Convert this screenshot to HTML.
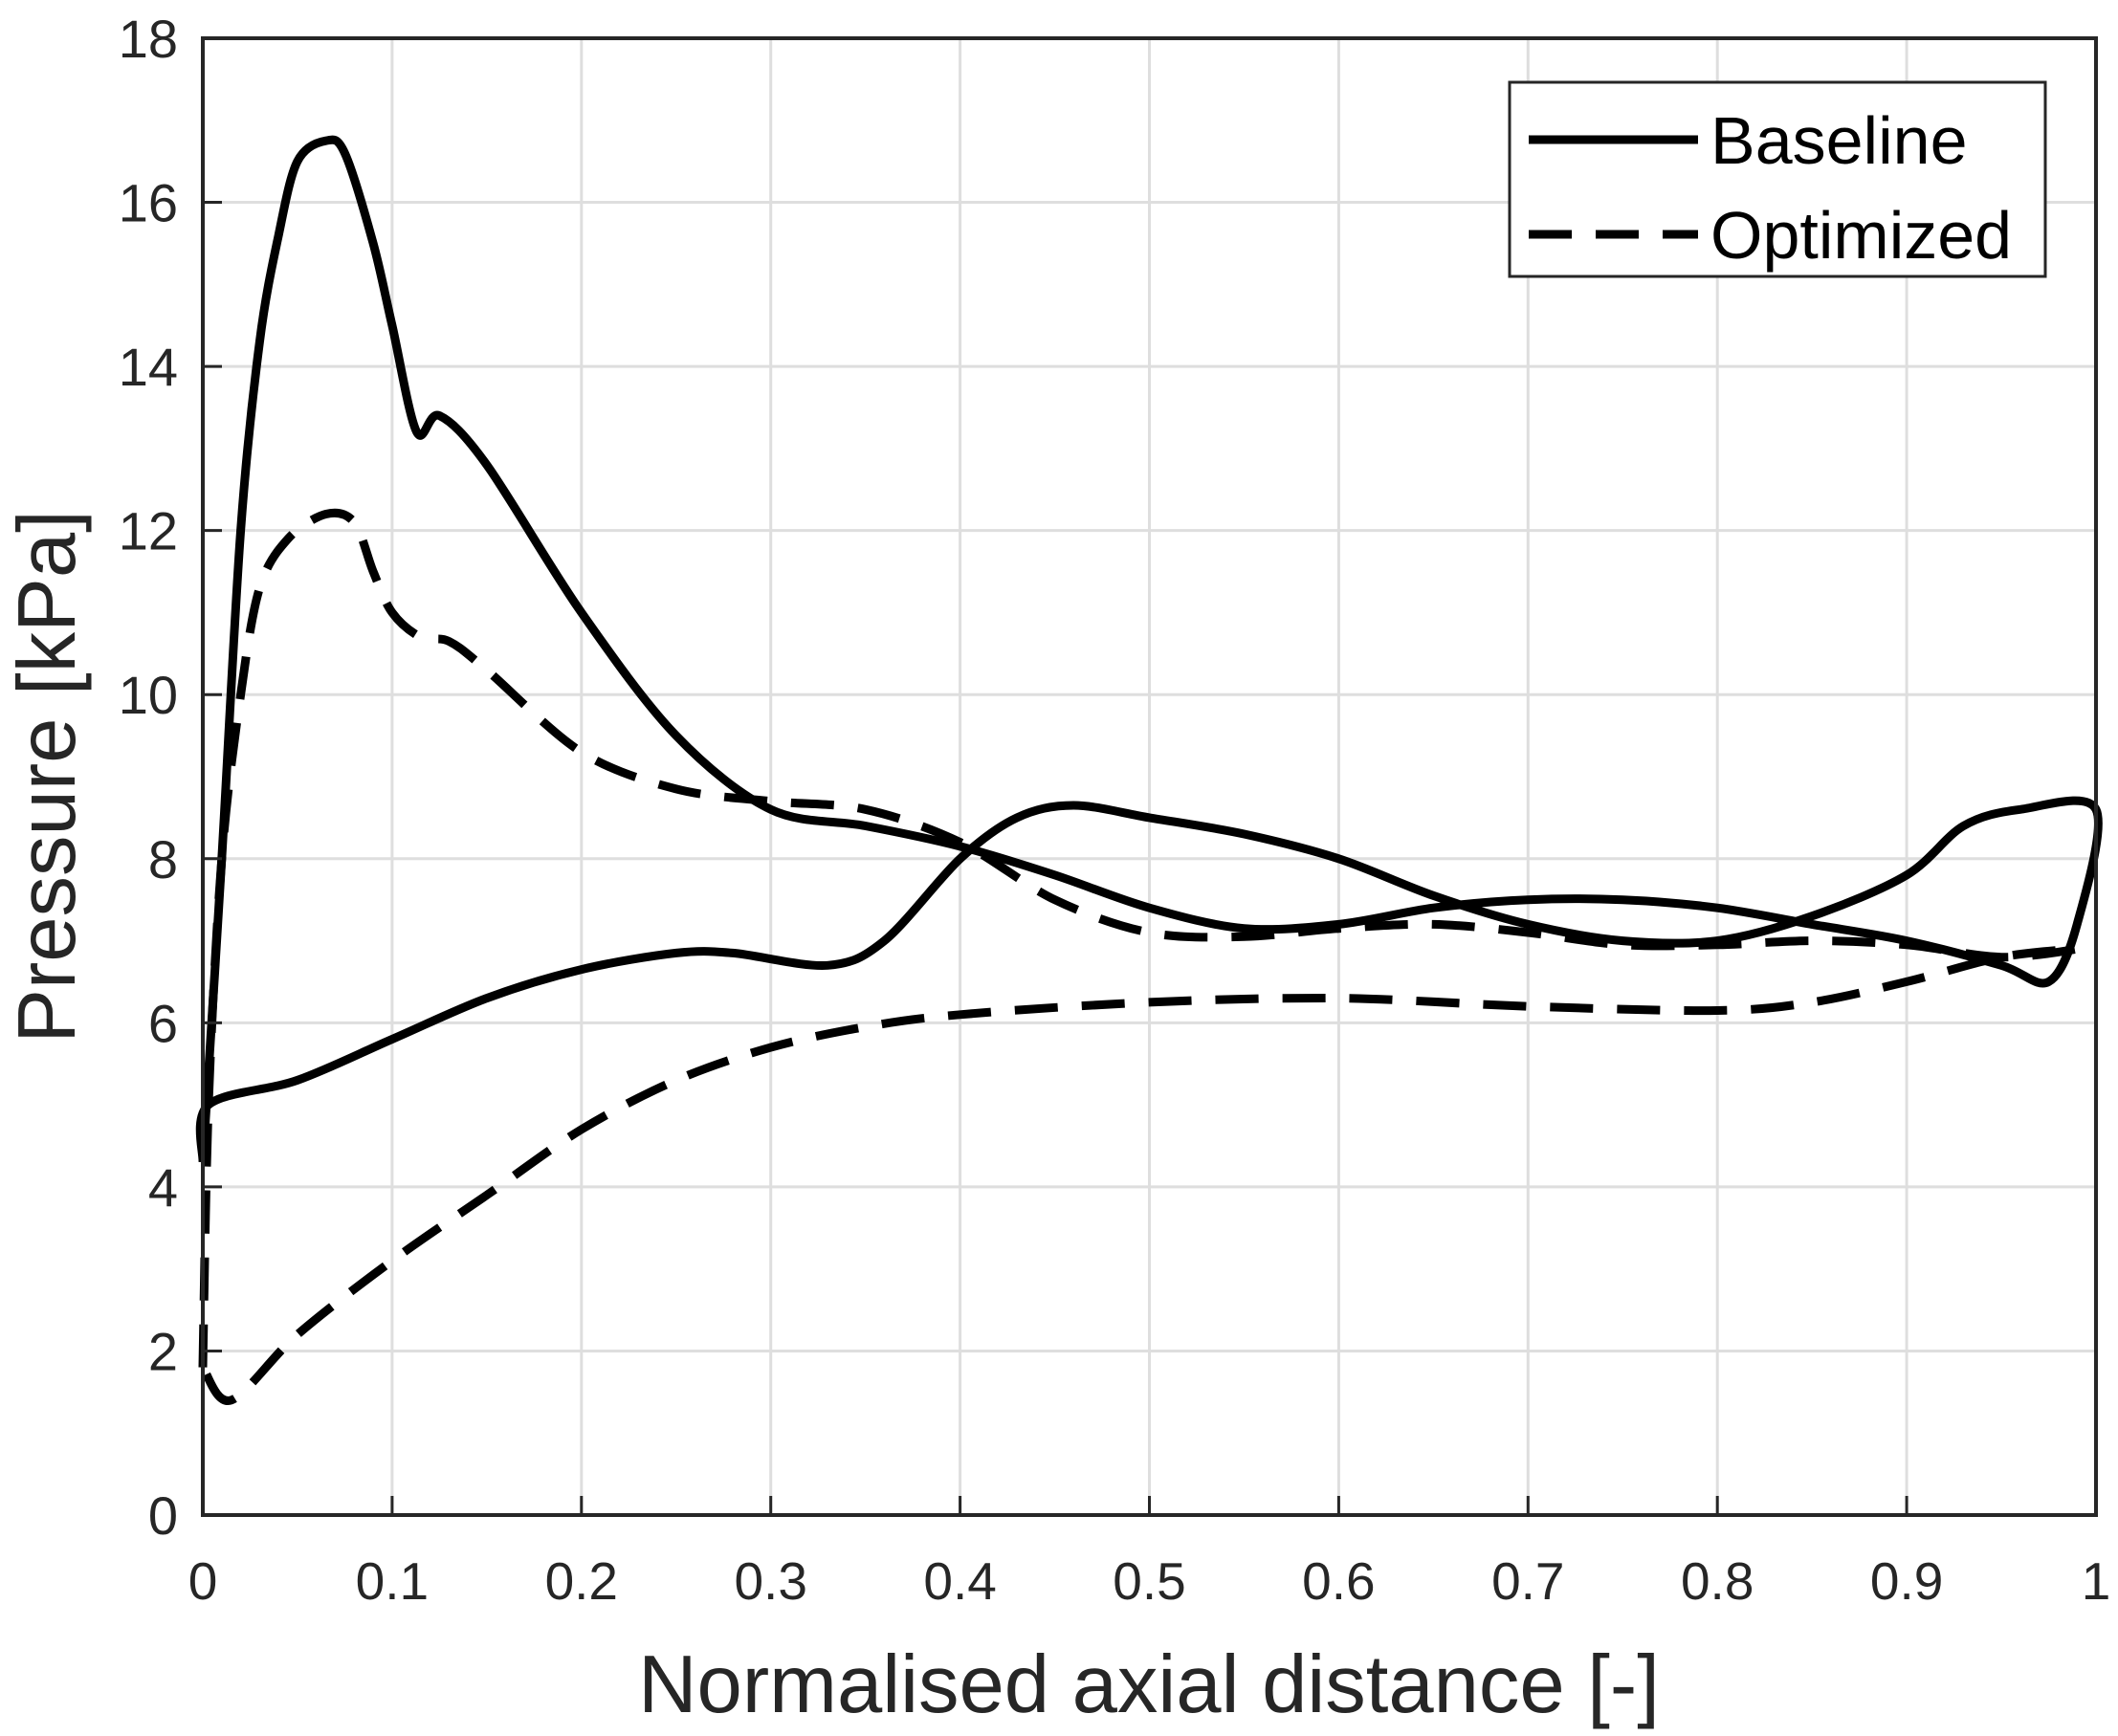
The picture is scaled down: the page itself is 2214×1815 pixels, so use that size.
<!DOCTYPE html>
<html><head><meta charset="utf-8"><style>
html,body{margin:0;padding:0;background:#fff;}
svg{display:block;font-family:"Liberation Sans",sans-serif;}
</style></head><body>
<svg id="chart" width="2214" height="1815" viewBox="0 0 2214 1815" xmlns="http://www.w3.org/2000/svg">
<g id="grid"></g>
<g id="series"></g>
<g id="axes"></g>
<text x="1201" y="1790" font-size="85" fill="#262626" text-anchor="middle">Normalised axial distance [-]</text>
<text transform="translate(78,812) rotate(-90)" font-size="85" fill="#262626" text-anchor="middle">Pressure [kPa]</text>
<g>
<rect x="1578" y="86" width="560" height="203" fill="#fff" stroke="#262626" stroke-width="3"/>
<line x1="1598" y1="146" x2="1775" y2="146" stroke="#000" stroke-width="9"/>
<text x="1788" y="171" font-size="70" fill="#000">Baseline</text>
<line x1="1598" y1="245" x2="1775" y2="245" stroke="#000" stroke-width="9" stroke-dasharray="45,25"/>
<text x="1788" y="270" font-size="70" fill="#000">Optimized</text>
</g>
</svg>
<script>
const xTicks=[0,0.1,0.2,0.3,0.4,0.5,0.6,0.7,0.8,0.9,1];
const xTickLabels=["0","0.1","0.2","0.3","0.4","0.5","0.6","0.7","0.8","0.9","1"];
const yTicks=[0,2,4,6,8,10,12,14,16,18];
const yTickLabels=["0","2","4","6","8","10","12","14","16","18"];
const baselineX=[0,0.01,0.02,0.03,0.04,0.05,0.065,0.075,0.09,0.1,0.113,0.125,0.15,0.2,0.25,0.3,0.35,0.4,0.45,0.5,0.55,0.6,0.65,0.7,0.75,0.8,0.85,0.9,0.95,0.975,0.99,1.0,0.96,0.93,0.9,0.85,0.8,0.75,0.7,0.65,0.6,0.55,0.5,0.46,0.43,0.4,0.36,0.33,0.28,0.25,0.2,0.15,0.1,0.05,0.003,0];
const baselineY=[4.3,8,12,14.3,15.6,16.5,16.75,16.6,15.5,14.5,13.2,13.4,12.8,11,9.5,8.6,8.4,8.15,7.8,7.4,7.15,7.2,7.4,7.5,7.5,7.4,7.2,7.0,6.7,6.5,7.2,8.6,8.6,8.4,7.8,7.3,7.0,7.0,7.2,7.55,8.0,8.3,8.5,8.65,8.5,8.0,7.0,6.7,6.85,6.85,6.65,6.3,5.8,5.3,5.0,4.3];
const optimizedX=[0,0.003,0.01,0.02,0.03,0.045,0.065,0.08,0.09,0.1,0.115,0.13,0.15,0.2,0.25,0.3,0.35,0.4,0.45,0.5,0.55,0.6,0.65,0.7,0.75,0.8,0.85,0.9,0.95,0.99,0.95,0.9,0.85,0.8,0.7,0.6,0.5,0.4,0.35,0.3,0.25,0.2,0.15,0.1,0.05,0.015,0];
const optimizedY=[1.8,5,8,10,11.3,11.9,12.2,12.1,11.5,11,10.7,10.65,10.3,9.3,8.85,8.7,8.6,8.2,7.5,7.1,7.05,7.15,7.2,7.1,6.95,6.95,7.0,6.95,6.8,6.9,6.8,6.5,6.25,6.15,6.2,6.3,6.25,6.1,5.95,5.7,5.3,4.7,3.9,3.1,2.2,1.4,1.8];
const X0=212,X1=2191,YT=40,YB=1584;
function sx(v){return X0+(v-0)/(1-0)*(X1-X0);}
function sy(v){return YB-(v-0)/(18-0)*(YB-YT);}
const NS="http://www.w3.org/2000/svg";
const grid=document.getElementById('grid'),axes=document.getElementById('axes'),series=document.getElementById('series');
function mk(tag,attrs,parent){const e=document.createElementNS(NS,tag);for(const k in attrs)e.setAttribute(k,attrs[k]);parent.appendChild(e);return e;}
xTicks.forEach((t,i)=>{
  const gl=mk('line',{x1:sx(t),x2:sx(t),y1:YT,y2:YB,stroke:'#dedede','stroke-width':3},grid);
  
  
  const tk=mk('line',{x1:sx(t),x2:sx(t),y1:YB,y2:YB-20,stroke:'#262626','stroke-width':3},axes);
  
  
  const tl=mk('text',{x:sx(t),y:1672,'font-size':55,fill:'#262626','text-anchor':'middle'},axes);
  tl.textContent=xTickLabels[i];
  
  
});
yTicks.forEach((t,i)=>{
  const gl=mk('line',{x1:X0,x2:X1,y1:sy(t),y2:sy(t),stroke:'#dedede','stroke-width':3},grid);
  
  
  const tk=mk('line',{x1:X0,x2:X0+20,y1:sy(t),y2:sy(t),stroke:'#262626','stroke-width':3},axes);
  
  
  const tl=mk('text',{x:186,y:sy(t)+20,'font-size':56,fill:'#262626','text-anchor':'end'},axes);
  tl.textContent=yTickLabels[i];
  
  
});
const fr=mk('rect',{x:X0,y:YT,width:X1-X0,height:YB-YT,fill:'none',stroke:'#262626','stroke-width':4},axes);


function smooth(xs,ys){
  const p=xs.map((x,i)=>[sx(x),sy(ys[i])]);
  let d='M'+p[0][0].toFixed(1)+','+p[0][1].toFixed(1);
  const k=0.16;
  for(let i=0;i<p.length-1;i++){
    const p0=p[Math.max(0,i-1)],p1=p[i],p2=p[i+1],p3=p[Math.min(p.length-1,i+2)];
    const c1=[p1[0]+(p2[0]-p0[0])*k,p1[1]+(p2[1]-p0[1])*k];
    const c2=[p2[0]-(p3[0]-p1[0])*k,p2[1]-(p3[1]-p1[1])*k];
    d+=' C'+c1[0].toFixed(1)+','+c1[1].toFixed(1)+' '+c2[0].toFixed(1)+','+c2[1].toFixed(1)+' '+p2[0].toFixed(1)+','+p2[1].toFixed(1);
  }
  return d;
}
const b=mk('path',{d:smooth(baselineX,baselineY),fill:'none',stroke:'#000','stroke-width':9,'stroke-linejoin':'round'},series);


const o=mk('path',{d:smooth(optimizedX,optimizedY),fill:'none',stroke:'#000','stroke-width':9,'stroke-dasharray':'45,25'},series);


</script>
</body></html>
